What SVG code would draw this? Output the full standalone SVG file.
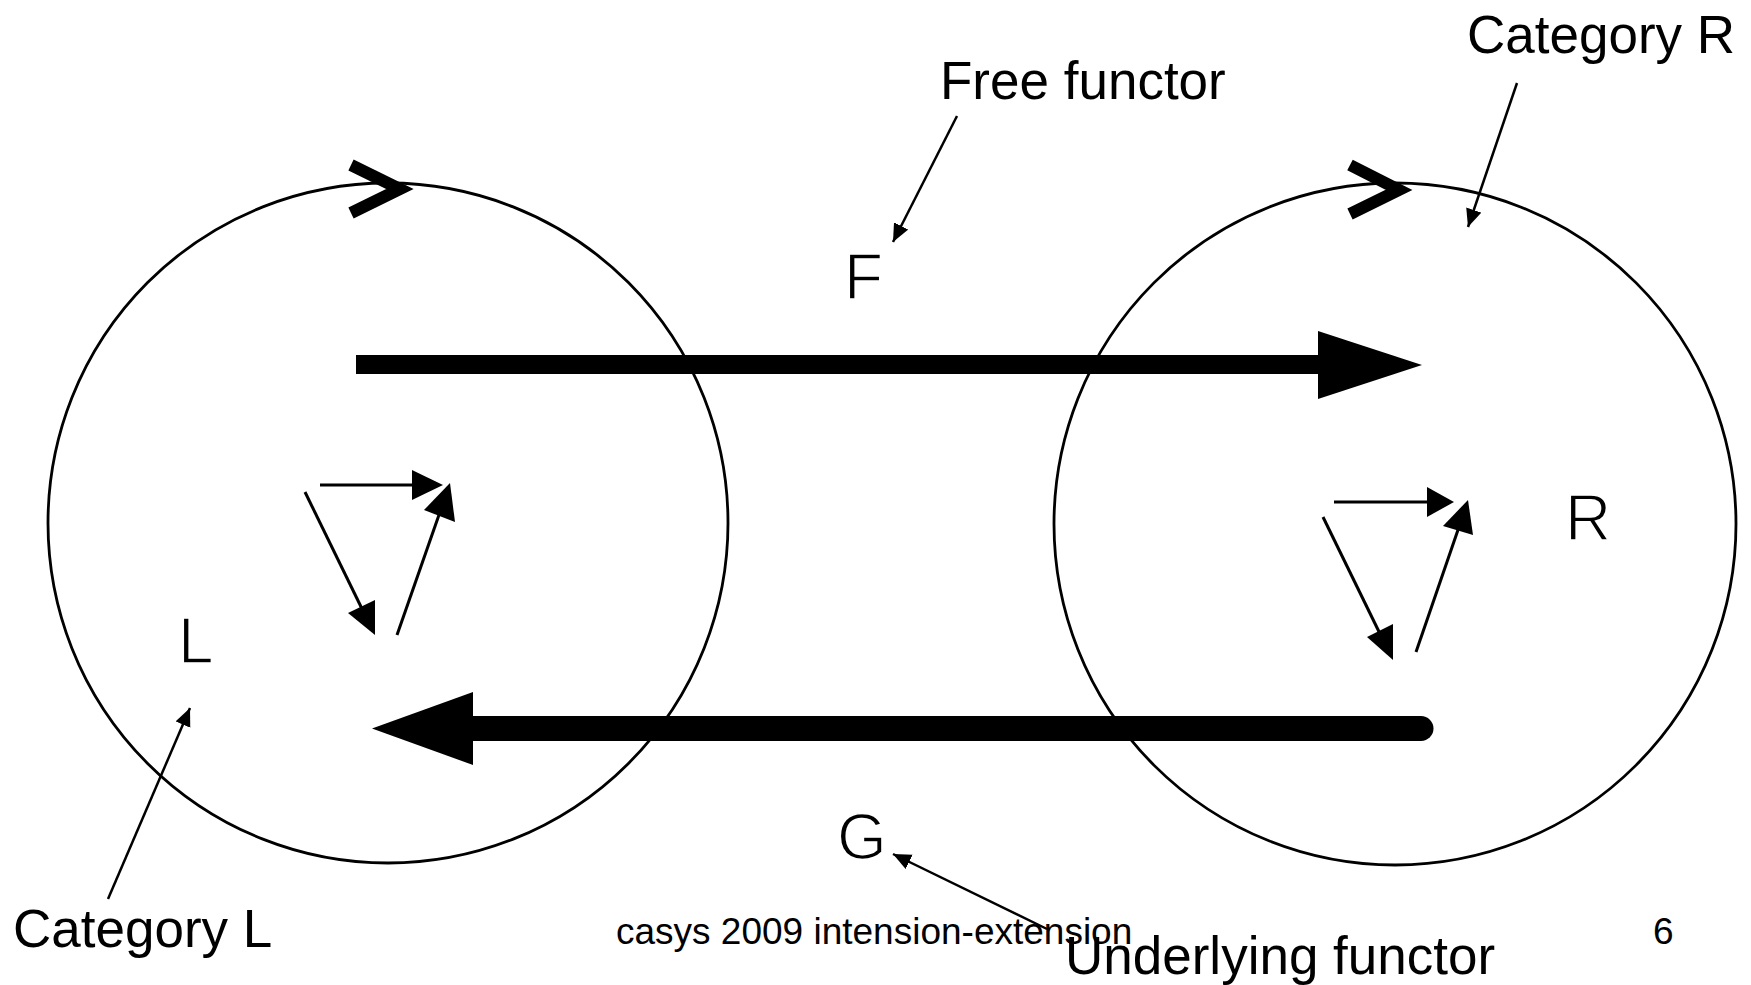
<svg xmlns="http://www.w3.org/2000/svg" width="1751" height="985" viewBox="0 0 1751 985">
<style>
  text { font-family: "Liberation Sans", Arial, sans-serif; fill: #000; }
  .cat { fill: none; stroke: #000; stroke-width: 2.8; }
  .chev { fill: none; stroke: #000; stroke-width: 12; stroke-linejoin: miter; }
  .thin { stroke: #000; stroke-width: 3; fill: none; }
  .lead { stroke: #000; stroke-width: 2.5; fill: none; marker-end: url(#ah); }
  .head { fill: #000; stroke: none; }
  .big { font-size: 53px; }
  .sym { font-size: 64px; stroke: #fff; stroke-width: 1.6; }
  .foot { font-size: 37px; }
</style>
<defs>
  <marker id="ah" markerUnits="userSpaceOnUse" markerWidth="22" markerHeight="18" refX="18" refY="8" orient="auto">
    <path d="M0,0 L18,8 L0,16 Z" fill="#000"/>
  </marker>
</defs>
<rect width="1751" height="985" fill="#fff"/>

<g id="category-L">
  <circle class="cat" cx="388" cy="523" r="340"/>
  <polyline class="chev" points="351,165 400,189 351,213"/>
  <text class="sym" x="178" y="663" font-size="62">L</text>
  <g id="L-triangle">
    <line class="thin" x1="320" y1="485" x2="414" y2="485"/>
    <polygon class="head" points="412,470 443,485 412,500"/>
    <line class="thin" x1="305" y1="492" x2="366" y2="617"/>
    <polygon class="head" points="348,613 375,600 375,635"/>
    <line class="thin" x1="397" y1="635" x2="440" y2="512"/>
    <polygon class="head" points="424,510 450,483 455,522"/>
  </g>
</g>

<g id="category-R">
  <circle class="cat" cx="1395" cy="524" r="341"/>
  <polyline class="chev" points="1350,165 1399,190 1350,214"/>
  <text class="sym" x="1565" y="540" font-size="68">R</text>
  <g id="R-triangle">
    <line class="thin" x1="1334" y1="502" x2="1428" y2="502"/>
    <polygon class="head" points="1427,487 1454,502 1427,517"/>
    <line class="thin" x1="1323" y1="517" x2="1384" y2="642"/>
    <polygon class="head" points="1367,637 1393,624 1393,660"/>
    <line class="thin" x1="1416" y1="652" x2="1459" y2="527"/>
    <polygon class="head" points="1443,526 1468,500 1473,535"/>
  </g>
</g>

<g id="connectors">
  <g id="F-arrow">
    <rect x="356" y="355" width="964" height="19" fill="#000"/>
    <polygon class="head" points="1318,331 1422,365 1318,399"/>
  </g>
  <g id="G-arrow">
    <line x1="470" y1="728.5" x2="1421" y2="728.5" stroke="#000" stroke-width="25" stroke-linecap="round"/>
    <rect x="460" y="716" width="20" height="25" fill="#000"/>
    <polygon class="head" points="473,692 372,728.5 473,765"/>
  </g>
  <line class="lead" x1="957" y1="116" x2="893" y2="242"/>
  <line class="lead" x1="1517" y1="83" x2="1468" y2="227"/>
  <line class="lead" x1="108" y1="899" x2="190" y2="708"/>
  <line class="lead" x1="1047" y1="929" x2="893" y2="854"/>
</g>

<g id="label-F"><text class="sym" x="844" y="299">F</text></g>
<g id="label-G"><text class="sym" x="837" y="859" font-size="62">G</text></g>
<g id="label-free"><text class="big" x="940" y="99">Free functor</text></g>
<g id="label-catR"><text class="big" x="1467" y="53" font-size="53.5">Category R</text></g>
<g id="label-catL"><text class="big" x="13" y="947" font-size="54">Category L</text></g>
<g id="label-under"><text class="big" x="1065" y="974" font-size="54.5">Underlying functor</text></g>
<g id="footer">
  <text class="foot" x="616" y="944">casys 2009 intension-extension</text>
  <text class="foot" x="1653" y="944">6</text>
</g>
</svg>
